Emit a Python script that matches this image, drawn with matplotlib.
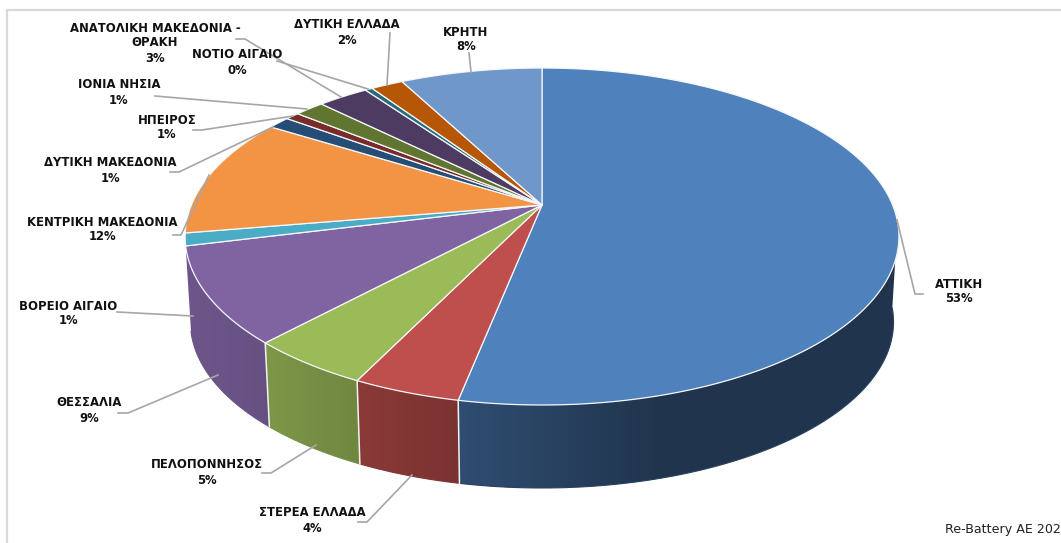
#!/usr/bin/env python3
import numpy as np
import matplotlib
matplotlib.use("Agg")
import matplotlib.pyplot as plt
from matplotlib.patches import Polygon

# clockwise from 12 o'clock
regions = ["ΑΤΤΙΚΗ", "ΣΤΕΡΕΑ ΕΛΛΑΔΑ", "ΠΕΛΟΠΟΝΝΗΣΟΣ", "ΘΕΣΣΑΛΙΑ", "ΒΟΡΕΙΟ ΑΙΓΑΙΟ",
           "ΚΕΝΤΡΙΚΗ ΜΑΚΕΔΟΝΙΑ", "ΔΥΤΙΚΗ ΜΑΚΕΔΟΝΙΑ", "ΗΠΕΙΡΟΣ", "ΙΟΝΙΑ ΝΗΣΙΑ",
           "ΑΝΑΤΟΛΙΚΗ ΜΑΚΕΔΟΝΙΑ -\nΘΡΑΚΗ", "ΝΟΤΙΟ ΑΙΓΑΙΟ", "ΔΥΤΙΚΗ ΕΛΛΑΔΑ", "ΚΡΗΤΗ"]
shares = [53.1, 4.1, 4.7, 9.2, 1.2, 11.5, 1.2, 0.75, 1.6, 2.75, 0.4, 1.75, 7.7]
pct_labels = ["53%", "4%", "5%", "9%", "1%", "12%", "1%", "1%", "1%", "3%", "0%", "2%", "8%"]
colors = ["#4F81BD", "#BE4F4C", "#9BBB59", "#8064A2", "#4BACC6", "#F39445", "#264D75",
          "#772C2A", "#5F7530", "#4D3B62", "#276A7C", "#B65708", "#6F97C9"]
# side wall brightness, (at left end, at right end); only the first four slices show a wall
side_shade = [(0.60, 0.41), (0.73, 0.64), (0.81, 0.72), (0.86, 0.80)]

label_pos = [(959, 284), (312, 513), (207, 465), (89, 403), (68, 306), (102, 222), (110, 163),
             (167, 120), (119, 85), (155, 28), (237, 55), (347, 25), (466, 32)]
LINE_H = 15
leaders = [
    [(897, 220), (915, 294), (923, 294)],
    [(358, 522), (367, 522), (412, 475)],
    [(262, 473), (271, 473), (316, 445)],
    [(118, 413), (128, 413), (218, 375)],
    [(117, 312), (193, 316)],
    [(173, 235), (181, 235), (209, 175)],
    [(170, 172), (179, 172), (273, 127)],
    [(193, 130), (202, 130), (293, 116)],
    [(155, 96), (307, 109)],
    [(236, 39), (245, 39), (341, 97)],
    [(277, 61), (368, 89)],
    [(390, 33), (387, 85)],
    [(469, 53), (471, 72)],
]

CX, TOP_Y, BASE_Y = 542, 205, 291
R, H, K = 350.6, 162.6, 0.187
BASE_SCALE = 0.985


def project(deg, y0, scale=1.0):
    a = np.radians(deg)
    u, v = np.sin(a), np.cos(a)
    w = 1 + K * v
    return CX + R * scale * u / w, y0 - H * scale * v / w


fig = plt.figure(figsize=(10.61, 5.43), dpi=100)
ax = fig.add_axes([0, 0, 1, 1])
ax.set_xlim(0, 1061)
ax.set_ylim(543, 0)
ax.set_autoscale_on(False)
ax.axis("off")

# frame, only top and left show in the crop
ax.plot([7, 7, 1061], [543, 10, 10], color="#D9D9D9", lw=1.6, solid_capstyle="butt")

edges = np.concatenate([[0], np.cumsum(shares)]) / sum(shares) * 360

# side wall, a horizontal gradient clipped to each slice's outline
for i, shade in enumerate(side_shade):
    a0, a1 = max(edges[i], 96), edges[i + 1]
    rgb = np.array(matplotlib.colors.to_rgb(colors[i]))
    arc = np.linspace(a0, a1, 200)
    tx, ty = project(arc, TOP_Y)
    bx, by = project(arc, BASE_Y, BASE_SCALE)
    xmin, xmax = min(tx.min(), bx.min()), max(tx.max(), bx.max())
    ramp = 0.45 if i == 0 else 1.0
    t = np.clip(np.linspace(0, 1, 256) / ramp, 0, 1)
    grad = (shade[0] + (shade[1] - shade[0]) * t)[None, :, None] * rgb
    outline = Polygon(np.c_[np.r_[tx, bx[::-1]], np.r_[ty, by[::-1]]], transform=ax.transData)
    im = ax.imshow(grad, extent=[xmin, xmax, by.max() + 2, ty.min() - 2], aspect="auto",
                   interpolation="bilinear", zorder=2)
    im.set_clip_path(outline)
    # soften the clipped lower rim
    ax.plot(bx, by, color=rgb * (shade[0] + shade[1]) / 2, lw=0.8, zorder=2.5)

# white seams between the front walls
for a in edges[1:4]:
    x0, y0 = project(a, TOP_Y)
    x1, y1 = project(a, BASE_Y, BASE_SCALE)
    ax.plot([x0, x1], [y0, y1], color="#F2F2F2", lw=1.1, zorder=3)

# top face
for i, c in enumerate(colors):
    arc = np.linspace(edges[i], edges[i + 1], max(int(edges[i + 1] - edges[i]) * 2, 4))
    xs, ys = project(arc, TOP_Y)
    ax.fill(np.r_[CX, xs], np.r_[TOP_Y, ys], facecolor=c, edgecolor="#F4F6F8", lw=0.9,
            joinstyle="round", zorder=4)

# leader lines
for pts in leaders:
    ax.plot(*zip(*pts), color="#A6A6A6", lw=1.2, zorder=5, solid_joinstyle="round")

# labels, one text per line
for name, pct, (x, y) in zip(regions, pct_labels, label_pos):
    for k, line in enumerate(name.split("\n") + [pct]):
        ax.text(x, y + k * LINE_H, line, ha="center", va="center", fontsize=8.4, fontweight="bold",
                family="DejaVu Sans", color="#111111", zorder=6)

ax.text(945, 529, "Re-Battery AE 202", ha="left", va="center", fontsize=9.1, family="DejaVu Sans",
        color="#222222", zorder=6)

fig.savefig("out.png", dpi=100)
